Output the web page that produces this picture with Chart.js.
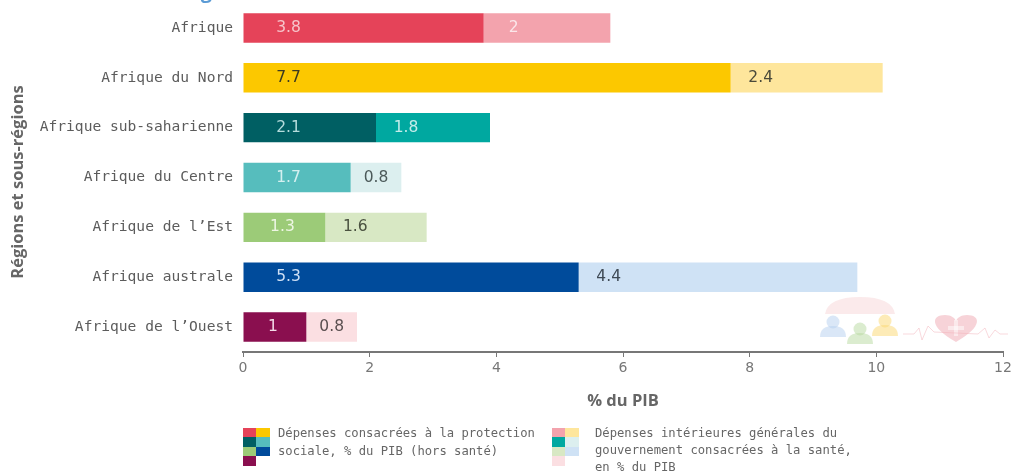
<!DOCTYPE html>
<html><head><meta charset="utf-8">
<script src="https://cdn.jsdelivr.net/npm/chart.js@4"></script>
<style>html,body{margin:0;padding:0;background:#fff}canvas{display:block}</style>
</head><body>
<canvas id="c" width="1011" height="474" style="width:1011px;height:474px"></canvas>
<script>
const categories = ["Afrique","Afrique du Nord","Afrique sub-saharienne","Afrique du Centre","Afrique de l’Est","Afrique australe","Afrique de l’Ouest"];
const socialProtection = [3.8,7.7,2.1,1.7,1.3,5.3,1];
const healthSpending = [2,2.4,1.8,0.8,1.6,4.4,0.8];
const socialLabels = ["3.8","7.7","2.1","1.7","1.3","5.3","1"];
const healthLabels = ["2","2.4","1.8","0.8","1.6","4.4","0.8"];
const socialColors = ["#e54359","#fcc800","#005f63","#56bdbd","#9ccb78","#004b9b","#8a0f4f"];
const healthColors = ["#f3a3ad","#fee69c","#00a8a0","#dcefef","#d8e8c4","#cfe2f5","#fbdfe2"];
const socialTextColors = ["#f6c4ca","#3c3a20","#b5dcdc","#d5f0f0","#eef6e4","#cfe0f5","#f4dce8"];
const healthTextColors = ["#fbe6e9","#4a4a3a","#c4ecea","#4c5a5a","#4a5240","#3f4a55","#5a4f50"];
const legendOne = ["Dépenses consacrées à la protection","sociale, % du PIB (hors santé)"];
const legendTwo = ["Dépenses intérieures générales du","gouvernement consacrées à la santé,","en % du PIB"];
const clippedTitle = "sous-régionales";
const yAxisTitle = "Régions et sous-régions";
const MONO = '"DejaVu Sans Mono", monospace';

const overlay = {
  id:'overlay',
  afterDatasetsDraw(chart){
    const ctx = chart.ctx;
    ctx.save();
    ctx.textBaseline='middle'; ctx.textAlign='center';
    ctx.font='15.5px "DejaVu Sans"';
    chart.getDatasetMeta(0).data.forEach((b,i)=>{
      const x0=b.base, w=b.x-b.base;
      ctx.fillStyle=socialTextColors[i];
      ctx.fillText(socialLabels[i], x0+Math.min(w/2-2,45), b.y);
    });
    chart.getDatasetMeta(1).data.forEach((b,i)=>{
      const x0=b.base, w=b.x-b.base;
      ctx.fillStyle=healthTextColors[i];
      ctx.fillText(healthLabels[i], x0+Math.min(w/2,30), b.y);
    });
    ctx.restore();
  },
  afterDraw(chart){
    const ctx=chart.ctx;
    ctx.save();
    // clipped heading at the top edge
    ctx.font='bold 20px "Open Sans"'; ctx.fillStyle='#5b9bd5';
    ctx.textAlign='left'; ctx.textBaseline='alphabetic';
    ctx.fillText(clippedTitle,128,-2);
    // y axis title
    ctx.save();
    ctx.translate(18,182);ctx.rotate(-Math.PI/2);
    ctx.font='bold 16.5px "Open Sans"';ctx.fillStyle='#666';ctx.textAlign='center';ctx.textBaseline='middle';
    ctx.fillText(yAxisTitle,0,0);
    ctx.restore();
    // legend swatches
    const cols=(x,c1,c2)=>{
      const ys=[428,437,447,456,466];
      c1.forEach((c,i)=>{ctx.fillStyle=c;ctx.fillRect(x,ys[i],13,ys[i+1]-ys[i]);});
      c2.forEach((c,i)=>{ctx.fillStyle=c;ctx.fillRect(x+13,ys[i],14,ys[i+1]-ys[i]);});
    };
    cols(243,[socialColors[0],socialColors[2],socialColors[4],socialColors[6]],[socialColors[1],socialColors[3],socialColors[5]]);
    cols(552,[healthColors[0],healthColors[2],healthColors[4],healthColors[6]],[healthColors[1],healthColors[3],healthColors[5]]);
    // legend text
    ctx.font='12.2px '+MONO; ctx.fillStyle='#666'; ctx.textBaseline='middle';ctx.textAlign='left';
    legendOne.forEach((t,i)=>ctx.fillText(t,278,434+i*17.5));
    legendTwo.forEach((t,i)=>ctx.fillText(t,595,434+i*17));
    // faint watermark
    ctx.globalAlpha=0.5;
    ctx.fillStyle='#f8d5d8';
    ctx.beginPath();ctx.moveTo(825,314);ctx.quadraticCurveTo(828,297,860,297);ctx.quadraticCurveTo(892,297,895,314);ctx.closePath();ctx.fill();
    const person=(x,y,c)=>{ctx.fillStyle=c;ctx.beginPath();ctx.arc(x,y-6,6.5,0,7);ctx.fill();
      ctx.beginPath();ctx.moveTo(x-13,y+9);ctx.quadraticCurveTo(x-13,y-2,x,y-2);ctx.quadraticCurveTo(x+13,y-2,x+13,y+9);ctx.closePath();ctx.fill();};
    person(833,328,'#b5d0f0');person(860,335,'#b8d9a0');person(885,327,'#fbd870');
    ctx.fillStyle='#f0a8b2';
    ctx.beginPath();ctx.moveTo(956,342);ctx.bezierCurveTo(928,326,932,315,945,315);ctx.bezierCurveTo(951,315,955,318,956,321);ctx.bezierCurveTo(957,318,961,315,967,315);ctx.bezierCurveTo(980,315,984,326,956,342);ctx.fill();
    ctx.fillStyle='#fff';ctx.fillRect(948,326,16,4);ctx.fillRect(954,320,4,16);
    ctx.strokeStyle='#f3b4bc';ctx.lineWidth=1;ctx.beginPath();
    [[903,334],[914,334],[919,328],[922,340],[928,326],[934,332],[978,334],[985,328],[989,338],[995,330],[1000,334],[1008,334]].forEach((p,i)=>i?ctx.lineTo(p[0],p[1]):ctx.moveTo(p[0],p[1]));
    ctx.stroke();
    ctx.restore();
  }
};

new Chart(document.getElementById('c'),{
  type:'bar',
  data:{labels:categories,datasets:[
    {label:legendOne.join(' '),data:socialProtection,backgroundColor:socialColors,stack:'a'},
    {label:legendTwo.join(' '),data:healthSpending,backgroundColor:healthColors,stack:'a'}
  ]},
  plugins:[overlay],
  options:{
    indexAxis:'y',responsive:false,animation:false,
    layout:{padding:{top:3,right:8,bottom:63,left:0}},
    datasets:{bar:{barPercentage:0.59,categoryPercentage:1,borderWidth:0}},
    plugins:{legend:{display:false},tooltip:{enabled:false},title:{display:false}},
    scales:{
      x:{type:'linear',stacked:true,min:0,max:12,
        ticks:{stepSize:2,maxRotation:0,color:'#777',font:{family:'"DejaVu Sans"',size:14},padding:3},
        grid:{drawOnChartArea:false,color:'#777',tickLength:5,tickColor:'#777'},
        border:{color:'#777',width:2},
        title:{display:true,text:'% du PIB',color:'#666',font:{family:'"Open Sans"',size:16.5,weight:'bold'},padding:0},
        afterFit(s){s.height=59;s.paddingLeft=0;s.paddingRight=0;}
      },
      y:{stacked:true,
        ticks:{color:'#5c5c5c',font:{family:MONO,size:14.6},padding:10,crossAlign:'near'},
        grid:{display:false,drawTicks:false},
        border:{display:false},
        afterFit(s){s.width=243;s.paddingTop=0;s.paddingBottom=0;}
      }
    }
  }
});
</script>
</body></html>
